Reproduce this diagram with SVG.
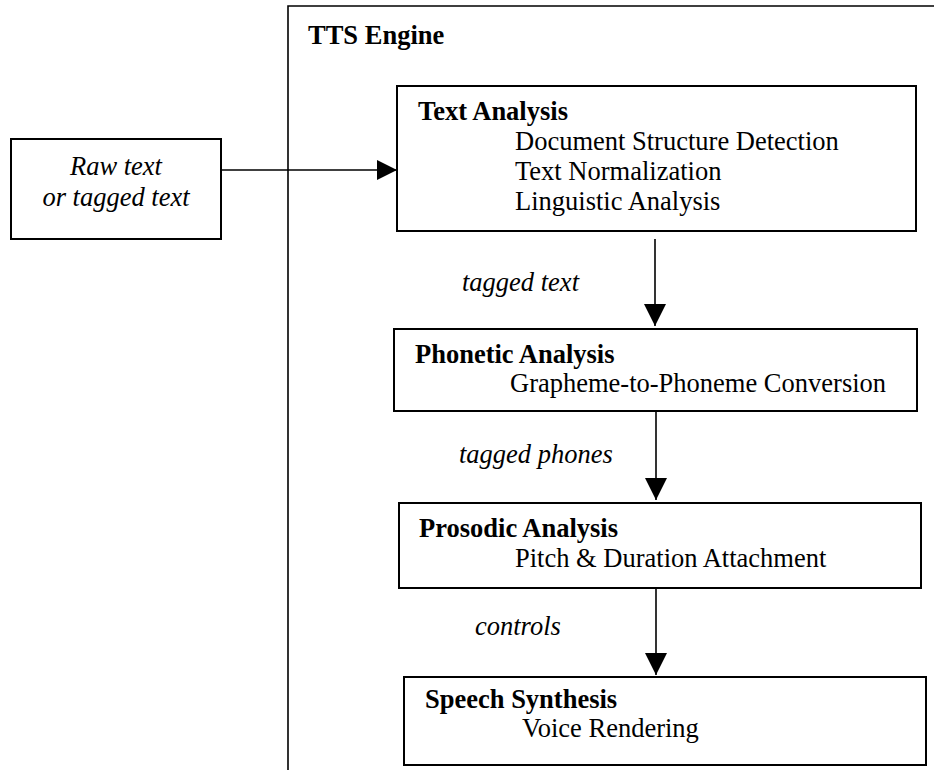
<svg xmlns="http://www.w3.org/2000/svg" width="934" height="770" viewBox="0 0 934 770">
<style>
  text { font-family: "Liberation Serif", "Times New Roman", serif; font-size: 26.5px; fill: #000; }
  .b { font-weight: bold; }
  .i { font-style: italic; }
  .box { fill: #fff; stroke: #000; stroke-width: 2; }
  .ln { fill: none; stroke: #000; stroke-width: 1.6; }
</style>
<defs>
  <marker id="ah" markerUnits="userSpaceOnUse" markerWidth="22" markerHeight="22" viewBox="0 0 20 20" refX="20" refY="10" orient="auto">
    <path d="M0,0 L20,10 L0,20 Z" fill="#000"/>
  </marker>
  <marker id="ahh" markerUnits="userSpaceOnUse" markerWidth="20" markerHeight="20" viewBox="0 0 18 18" refX="18" refY="9" orient="auto">
    <path d="M0,0 L18,9 L0,18 Z" fill="#000"/>
  </marker>
</defs>
<rect width="934" height="770" fill="#fff"/>
<g id="tts-engine">
  <path class="ln" d="M288,770 L288,6 L934,6"/>
  <text class="b" x="308" y="44">TTS Engine</text>
</g>
<g id="connectors">
  <line class="ln" x1="221" y1="170" x2="397" y2="170" marker-end="url(#ahh)"/>
  <line class="ln" x1="655" y1="239" x2="655" y2="326" marker-end="url(#ah)"/>
  <line class="ln" x1="656" y1="412" x2="656" y2="500" marker-end="url(#ah)"/>
  <line class="ln" x1="656" y1="588" x2="656" y2="675" marker-end="url(#ah)"/>
</g>
<g id="raw-text">
  <rect class="box" x="11" y="139" width="210" height="100"/>
  <text class="i" x="116" y="175" text-anchor="middle">Raw text</text>
  <text class="i" x="116" y="206" text-anchor="middle">or tagged text</text>
</g>
<g id="text-analysis">
  <rect class="box" x="397" y="86" width="519" height="145"/>
  <text class="b" x="418" y="120">Text Analysis</text>
  <text x="515" y="150">Document Structure Detection</text>
  <text x="515" y="180">Text Normalization</text>
  <text x="515" y="210">Linguistic Analysis</text>
</g>
<g id="phonetic-analysis">
  <rect class="box" x="394" y="329" width="523" height="82"/>
  <text class="b" x="415" y="363">Phonetic Analysis</text>
  <text x="510" y="392">Grapheme-to-Phoneme Conversion</text>
</g>
<g id="prosodic-analysis">
  <rect class="box" x="399" y="503" width="522" height="85"/>
  <text class="b" x="419" y="537">Prosodic Analysis</text>
  <text x="515" y="567">Pitch &amp; Duration Attachment</text>
</g>
<g id="speech-synthesis">
  <rect class="box" x="404" y="677" width="522" height="88"/>
  <text class="b" x="425" y="708">Speech Synthesis</text>
  <text x="522" y="737">Voice Rendering</text>
</g>
<g id="labels">
  <text class="i" x="462" y="291">tagged text</text>
  <text class="i" x="459" y="463">tagged phones</text>
  <text class="i" x="475" y="635">controls</text>
</g>
</svg>
